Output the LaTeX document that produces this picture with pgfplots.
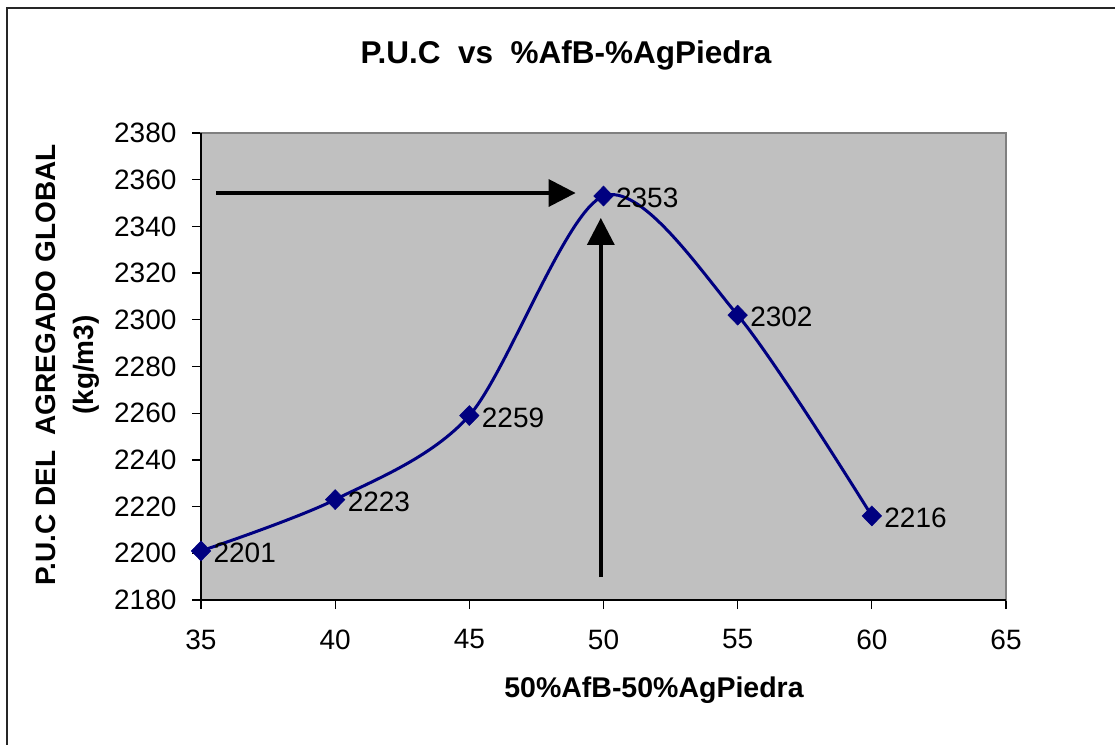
\documentclass[border=0pt]{standalone}
\usepackage{fontspec}
\setmainfont{Liberation Sans}
\usepackage{pgfplots}
\pgfplotsset{compat=1.18}
\usetikzlibrary{arrows.meta}
\definecolor{plotgray}{HTML}{C0C0C0}
\definecolor{frame}{HTML}{808080}
\definecolor{navy}{HTML}{000080}
\begin{document}
\begin{tikzpicture}[x=1pt,y=1pt]
\useasboundingbox (0,0) rectangle (1115,744);
% outer chart frame
\draw[line width=2.2pt, black!85] (7,-20) rectangle (1130,736);
% title and axis labels
\node[font=\bfseries\fontsize{31.5}{36}\selectfont] at (566,689) {P.U.C\ \ vs\ \ \%AfB-\%AgPiedra};
\node[font=\bfseries\fontsize{28.5}{32}\selectfont] at (654,54) {50\%AfB-50\%AgPiedra};
\node[font=\bfseries\fontsize{28}{38}\selectfont, rotate=90, align=center] at (68,379)
  {P.U.C DEL\ \ AGREGADO GLOBAL\\(kg/m3)};
\begin{axis}[
  at={(201pt,144pt)}, anchor=south west,
  width=805pt, height=467pt, scale only axis,
  xmin=35, xmax=65, ymin=2180, ymax=2380,
  xtick={35,40,...,65}, ytick={2180,2200,...,2380},
  xtick pos=left, ytick pos=left,
  tick align=outside, major tick length=9pt,
  tick style={black, line width=1.3pt},
  axis background/.style={fill=plotgray},
  axis line style={frame, line width=2pt},
  ticklabel style={font=\fontsize{28}{32}\selectfont},
  /pgf/number format/assume math mode=true,
  /pgf/number format/1000 sep={},
  xticklabel style={yshift=-17pt},
  yticklabel style={xshift=-12pt},
  clip=false,
]
% left and bottom axes in black
\draw[black, line width=2pt] (rel axis cs:0,1) -- (rel axis cs:0,0) -- (rel axis cs:1,0);
% arrows pointing to the maximum
\draw[black, line width=3.5pt, -{Triangle[length=27pt,width=27pt]}] (axis cs:35.56,2354.3) -- (axis cs:48.96,2354.3);
\draw[black, line width=3.5pt, -{Triangle[length=27pt,width=27pt]}] (axis cs:49.9,2189.8) -- (axis cs:49.9,2343.6);
\addplot[navy, line width=3pt, smooth, tension=0.5, mark=diamond*,
  mark size=10pt, mark options={fill=navy, line width=0.5pt, xscale=1.3},
  nodes near coords, point meta=explicit symbolic,
  every node near coord/.append style={anchor=west, xshift=9pt, yshift=-2pt, black,
    font=\fontsize{28}{32}\selectfont}]
  table[meta=label] {
  x  y    label
  35 2201 2201
  40 2223 2223
  45 2259 2259
  50 2353 2353
  55 2302 2302
  60 2216 2216
};
\end{axis}
\end{tikzpicture}
\end{document}
